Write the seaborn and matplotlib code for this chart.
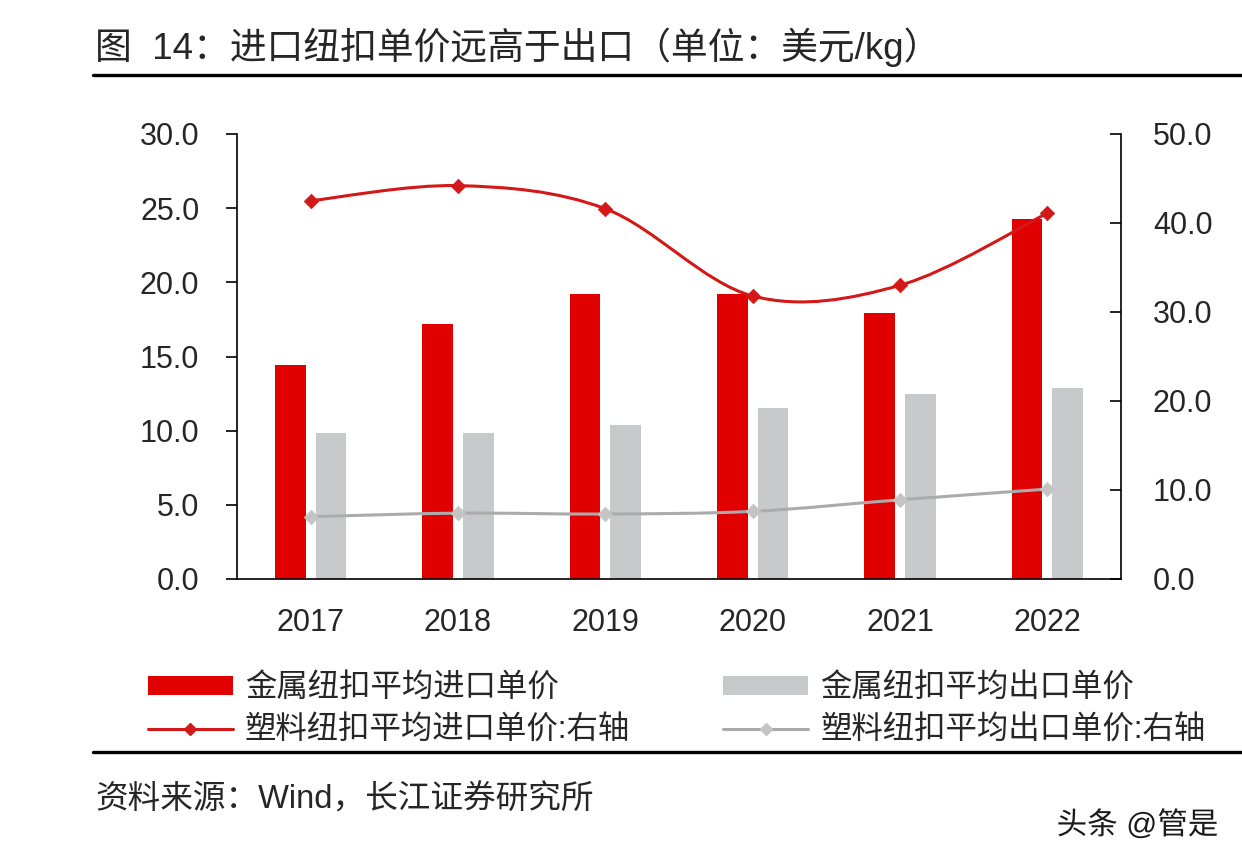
import numpy as np
import pandas as pd
import seaborn as sns
import matplotlib.pyplot as plt
import matplotlib.patheffects as pe
from matplotlib.path import Path
from matplotlib.patches import PathPatch, Patch
from matplotlib.lines import Line2D

# 数据
years = ['2017', '2018', '2019', '2020', '2021', '2022']
metal_import = [14.4, 17.2, 19.2, 19.2, 17.9, 24.3]     # 左轴
metal_export = [9.85, 9.85, 10.4, 11.5, 12.5, 12.9]     # 左轴
plastic_import = [42.5, 44.2, 41.6, 31.8, 33.0, 41.1]   # 右轴
plastic_export = [7.0, 7.4, 7.3, 7.6, 8.9, 10.1]        # 右轴

bar_names = ['金属纽扣平均进口单价', '金属纽扣平均出口单价']
line_names = ['塑料纽扣平均进口单价:右轴', '塑料纽扣平均出口单价:右轴']

RED = '#E00000'
GRAY_BAR = '#C8C9CB'
RED_LINE = '#D41818'
GRAY_LINE = '#ABABAB'
GRAY_MARK = '#C4C4C4'

sns.set_theme(style='white')
plt.rcParams['font.family'] = ['Liberation Sans', 'Noto Sans CJK SC']
plt.rcParams['axes.unicode_minus'] = False


def smooth_path(xs, ys):
    # 类似 Excel 的平滑线：Catmull-Rom 转三次贝塞尔
    n = len(xs)
    verts = [(xs[0], ys[0])]
    codes = [Path.MOVETO]
    for i in range(n - 1):
        a, b = max(i - 1, 0), min(i + 2, n - 1)
        c1 = (xs[i] + (xs[i + 1] - xs[a]) / 6, ys[i] + (ys[i + 1] - ys[a]) / 6)
        c2 = (xs[i + 1] - (xs[b] - xs[i]) / 6, ys[i + 1] - (ys[b] - ys[i]) / 6)
        verts += [c1, c2, (xs[i + 1], ys[i + 1])]
        codes += [Path.CURVE4] * 3
    return Path(verts, codes)


df = pd.DataFrame({
    'year': years * 2,
    'value': metal_import + metal_export,
    'series': [bar_names[0]] * len(years) + [bar_names[1]] * len(years),
})

W, H = 1242, 866
fig = plt.figure(figsize=(W / 100, H / 100), dpi=100)
fig.patch.set_facecolor('white')
ax = fig.add_axes([237 / W, 1 - 579 / H, (1121 - 237) / W, (579 - 134) / H])

sns.barplot(data=df, x='year', y='value', hue='series', palette=[RED, GRAY_BAR],
            width=0.55, gap=0.24, saturation=1, linewidth=0, ax=ax, legend=False)

ax.set_xlim(-0.5, len(years) - 0.5)
ax.set_ylim(0, 30)
ax.set_yticks(np.arange(0, 31, 5))
ax.set_yticklabels([f'{v:.1f}' for v in np.arange(0, 31, 5)])
ax.set_xlabel('')
ax.set_ylabel('')
ax.set_xticks(range(len(years)))
ax.set_xticklabels(years)
ax.set_xticks(np.arange(0.5, len(years) - 1, 1), minor=True)
ax.tick_params(axis='x', which='major', length=0, labelsize=22, pad=21)
ax.tick_params(axis='x', which='minor', direction='in', length=8, width=1.2, color='black')
ax.tick_params(axis='y', direction='out', length=8, width=1.2, color='black',
               labelsize=22, pad=19, left=True)
for s in ['left', 'bottom']:
    ax.spines[s].set_color('black')
    ax.spines[s].set_linewidth(1.2)
ax.spines['top'].set_visible(False)
ax.spines['right'].set_visible(False)

ax2 = ax.twinx()
xpos = np.arange(len(years))
for vals, lc, mc in [(plastic_import, RED_LINE, RED_LINE), (plastic_export, GRAY_LINE, GRAY_MARK)]:
    ax2.add_patch(PathPatch(smooth_path(xpos, vals), fill=False, edgecolor=lc, lw=2.2,
                            capstyle='round', joinstyle='round'))
    sns.scatterplot(x=xpos, y=vals, marker='D', s=55, color=mc, edgecolor=mc, linewidth=0.5,
                    ax=ax2, zorder=3, legend=False)
ax2.set_xlim(-0.5, len(years) - 0.5)
ax2.set_ylim(0, 50)
ax2.set_yticks(np.arange(0, 51, 10))
ax2.set_yticklabels([f'{v:.1f}' for v in np.arange(0, 51, 10)])
ax2.tick_params(axis='y', direction='in', length=8, width=1.2, color='black',
                labelsize=22, pad=23, right=True)
for s in ['left', 'bottom', 'top']:
    ax2.spines[s].set_visible(False)
ax2.spines['right'].set_color('black')
ax2.spines['right'].set_linewidth(1.2)

# 图例
handles = [
    Patch(facecolor=RED, edgecolor='none'),
    Line2D([], [], color=RED_LINE, lw=2.2, marker='D', ms=6),
    Patch(facecolor=GRAY_BAR, edgecolor='none'),
    Line2D([], [], color=GRAY_LINE, lw=2.2, marker='D', ms=6, markerfacecolor=GRAY_MARK,
           markeredgecolor=GRAY_MARK),
]
labels = [bar_names[0], line_names[0], bar_names[1], line_names[1]]
fig.legend(handles, labels, loc='upper left', bbox_to_anchor=(148 / W, 1 - 674 / H),
           ncol=2, frameon=False, fontsize=22.6, handlelength=2.7, handleheight=0.55,
           handletextpad=0.38, columnspacing=2.98, labelspacing=0.38, borderpad=0,
           borderaxespad=0)

# 标题、分隔线、来源
fig.text(95 / W, 1 - 47 / H, '图  14：进口纽扣单价远高于出口（单位：美元/kg）',
         fontsize=26.5, va='center', ha='left')
fig.add_artist(Line2D([93 / W, 1], [1 - 75 / H] * 2, color='black', lw=2.4,
                      transform=fig.transFigure))
fig.add_artist(Line2D([93 / W, 1], [1 - 752 / H] * 2, color='black', lw=2.4,
                      transform=fig.transFigure))
fig.text(95 / W, 1 - 800 / H, '资料来源：Wind，长江证券研究所', fontsize=23.5,
         va='center', ha='left')
fig.text(1218 / W, 1 - 826 / H, '头条 @管是', fontsize=22, va='center', ha='right',
         color='#1a1a1a', path_effects=[pe.withStroke(linewidth=3, foreground='white')])

fig.savefig('out.png', dpi=100, facecolor='white')
